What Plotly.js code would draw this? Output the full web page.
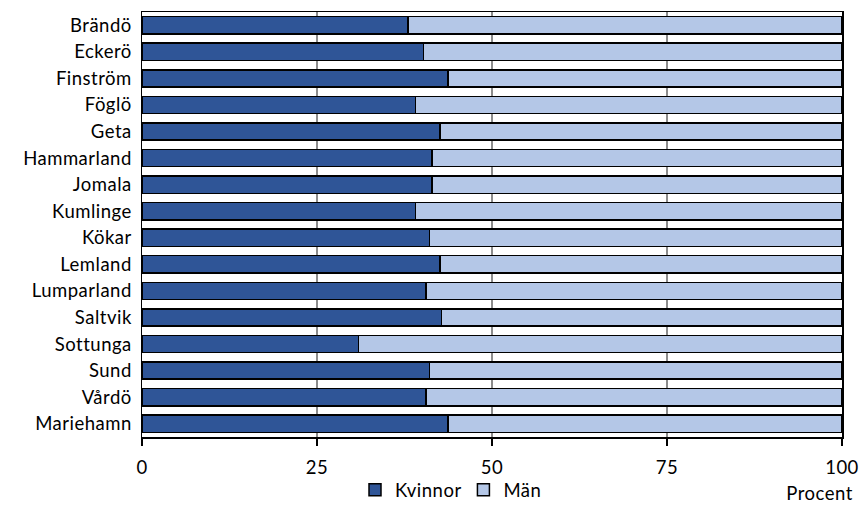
<!DOCTYPE html>
<html><head><meta charset="utf-8">
<script src="https://cdn.plot.ly/plotly-3.0.1.min.js"></script>
<style>
html,body{margin:0;padding:0;background:#fff;}
#chart .ytick text, #chart .xtick text, #chart .legendtext, #chart .annotation-text { letter-spacing: 0.5px; }
</style>
</head><body>
<div id="chart" style="width:862px;height:507px;"></div>
<script>
const categories = ["Brändö","Eckerö","Finström","Föglö","Geta","Hammarland","Jomala","Kumlinge","Kökar","Lemland","Lumparland","Saltvik","Sottunga","Sund","Vårdö","Mariehamn"];
const kvinnor = [38.0, 40.2, 43.7, 39.1, 42.6, 41.4, 41.4, 39.1, 41.1, 42.6, 40.6, 42.8, 30.9, 41.1, 40.6, 43.7];
const man = kvinnor.map(v => +(100 - v).toFixed(1));
const xTicks = [0, 25, 50, 75, 100];

const font = {family: "Lato, 'Open Sans', sans-serif", size: 18.5, color: "#000"};
const traces = [
  {type: "bar", orientation: "h", name: "Kvinnor", y: categories, x: kvinnor,
   marker: {color: "#2F5597", line: {color: "#000", width: 1.5}}},
  {type: "bar", orientation: "h", name: "Män", y: categories, x: man,
   marker: {color: "#B4C7E7", line: {color: "#000", width: 1.5}}}
];
const layout = {
  barmode: "stack", bargap: 0.35,
  width: 862, height: 507,
  margin: {l: 142, r: 20, t: 12, b: 70, autoexpand: false},
  paper_bgcolor: "#fff", plot_bgcolor: "#fff",
  font: font,
  showlegend: true,
  legend: {orientation: "h", x: 0.44, xanchor: "center", y: -0.125, yanchor: "middle",
           font: font, itemwidth: 30, traceorder: "normal", bgcolor: "rgba(0,0,0,0)"},
  xaxis: {range: [0, 100], tickvals: xTicks, ticktext: xTicks.map(String),
          showgrid: true, gridcolor: "#8c8c8c", gridwidth: 1.5,
          showline: true, linecolor: "#000", linewidth: 1.5, mirror: true,
          ticks: "outside", ticklen: 7, tickwidth: 1.5, tickcolor: "#000",
          zeroline: false, tickfont: font, ticklabelstandoff: 6},
  yaxis: {autorange: "reversed", showline: true, linecolor: "#000", linewidth: 1.5, mirror: true,
          ticks: "", showgrid: false, tickfont: font, ticklabelstandoff: 5},
  annotations: [{text: "Procent", xref: "paper", yref: "paper", x: 1.016, y: -0.132,
                 xanchor: "right", yanchor: "middle", showarrow: false, font: font}]
};
Plotly.newPlot("chart", traces, layout, {displayModeBar: false, staticPlot: true});
</script>
</body></html>
